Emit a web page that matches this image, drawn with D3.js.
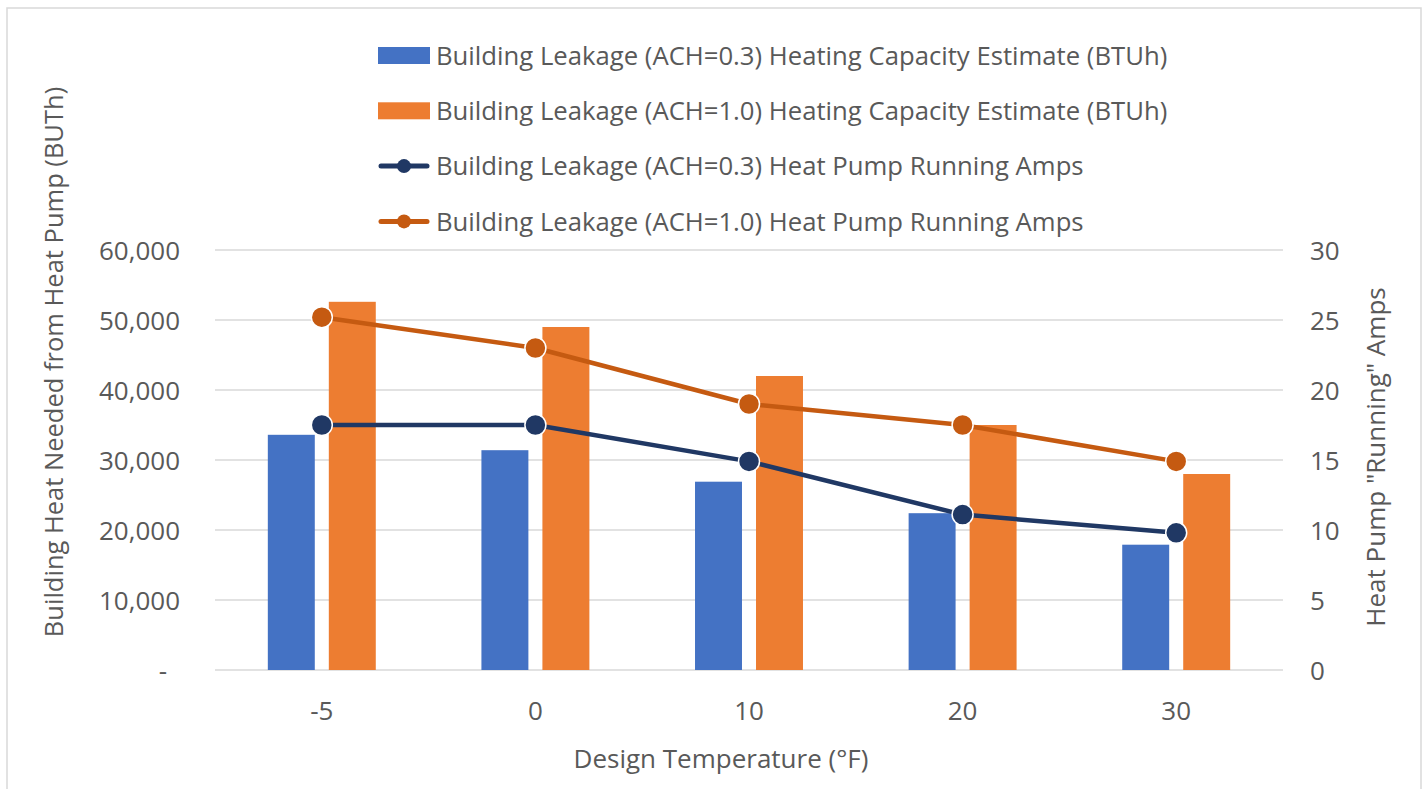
<!DOCTYPE html>
<meta charset="utf-8">
<head>
	<script src="https://d3js.org/d3.v7.min.js"></script>
</head>
<style>
	body {
		margin: 0;
		background: #fff;
	}
	text {
		font-family: "Open Sans", sans-serif;
		fill: #595959;
	}
	.grid line {
		stroke: #D9D9D9;
		stroke-width: 1.5px;
	}
	.line {
		fill: none;
		stroke-width: 4.5px;
		stroke-linejoin: round;
	}
</style>
<body>
<svg id="chart" width="1426" height="789"></svg>
<script>
	// data
	var temps = ["-5", "0", "10", "20", "30"];
	var capacityLow = [33600, 31400, 26900, 22400, 17900];
	var capacityHigh = [52600, 49000, 42000, 35000, 28000];
	var ampsLow = [17.5, 17.5, 14.9, 11.1, 9.8];
	var ampsHigh = [25.2, 23.0, 19.0, 17.5, 14.9];
	var leftTicks = [0, 10000, 20000, 30000, 40000, 50000, 60000];
	var rightTicks = [0, 5, 10, 15, 20, 25, 30];

	var barSeries = [
		{name: "Building Leakage (ACH=0.3) Heating Capacity Estimate (BTUh)", values: capacityLow, color: "#4472C4"},
		{name: "Building Leakage (ACH=1.0) Heating Capacity Estimate (BTUh)", values: capacityHigh, color: "#ED7D31"}
	];
	var lineSeries = [
		{name: "Building Leakage (ACH=0.3) Heat Pump Running Amps", values: ampsLow, color: "#203864"},
		{name: "Building Leakage (ACH=1.0) Heat Pump Running Amps", values: ampsHigh, color: "#C55A11"}
	];

	var svg = d3.select("#chart");

	var plot = {left: 215, right: 1283, top: 250, bottom: 670};

	// outer chart border
	svg.append("rect")
		.attr("x", 7)
		.attr("y", 8)
		.attr("width", 1414)
		.attr("height", 800)
		.attr("fill", "none")
		.attr("stroke", "#D9D9D9")
		.attr("stroke-width", 1.5);

	var x0 = d3.scaleBand()
		.domain(temps)
		.range([plot.left, plot.right]);

	var x1 = d3.scaleBand()
		.domain([0, 1])
		.range([0, x0.bandwidth()])
		.paddingInner(0.23)
		.paddingOuter(0.866);

	var yLeft = d3.scaleLinear()
		.domain([0, 60000])
		.range([plot.bottom, plot.top]);

	var yRight = d3.scaleLinear()
		.domain([0, 30])
		.range([plot.bottom, plot.top]);

	// gridlines
	svg.append("g")
		.attr("class", "grid")
		.selectAll("line")
		.data(leftTicks)
		.join("line")
		.attr("x1", plot.left)
		.attr("x2", plot.right)
		.attr("y1", d => yLeft(d))
		.attr("y2", d => yLeft(d));

	// left axis
	var leftAxis = svg.append("g")
		.attr("transform", "translate(" + plot.left + ",0)")
		.call(d3.axisLeft(yLeft)
			.tickValues(leftTicks)
			.tickSize(0)
			.tickPadding(35)
			.tickFormat(d => d === 0 ? "-" : d3.format(",")(d)));
	leftAxis.select(".domain").remove();
	leftAxis.selectAll("text")
		.attr("font-size", 26)
		.attr("dy", "0.36em")
		.filter(d => d === 0)
		.attr("dx", -13);

	// right axis
	var rightAxis = svg.append("g")
		.attr("transform", "translate(" + plot.right + ",0)")
		.call(d3.axisRight(yRight)
			.tickValues(rightTicks)
			.tickSize(0)
			.tickPadding(27));
	rightAxis.select(".domain").remove();
	rightAxis.selectAll("text")
		.attr("font-size", 26)
		.attr("dy", "0.36em");

	// bottom axis
	var bottomAxis = svg.append("g")
		.attr("transform", "translate(0," + plot.bottom + ")")
		.call(d3.axisBottom(x0).tickSize(0));
	bottomAxis.select(".domain").remove();
	bottomAxis.selectAll("text")
		.attr("font-size", 26)
		.attr("dy", null)
		.attr("y", 50);

	svg.selectAll(".tick text").attr("fill", "#595959");
	svg.selectAll("g[font-family]").attr("font-family", null).attr("font-size", null);

	// bars
	barSeries.forEach(function(s, i) {
		svg.append("g")
			.selectAll("rect")
			.data(s.values)
			.join("rect")
			.attr("x", (d, j) => x0(temps[j]) + x1(i))
			.attr("width", x1.bandwidth())
			.attr("y", d => yLeft(d))
			.attr("height", d => yLeft(0) - yLeft(d))
			.attr("fill", s.color);
	});

	// lines with markers
	var line = d3.line()
		.x((d, j) => x0(temps[j]) + x0.bandwidth() / 2)
		.y(d => yRight(d));

	lineSeries.forEach(function(s) {
		svg.append("path")
			.attr("class", "line")
			.attr("d", line(s.values))
			.attr("stroke", s.color);
		svg.append("g")
			.selectAll("circle")
			.data(s.values)
			.join("circle")
			.attr("cx", (d, j) => x0(temps[j]) + x0.bandwidth() / 2)
			.attr("cy", d => yRight(d))
			.attr("r", 10.5)
			.attr("fill", s.color)
			.attr("stroke", "#fff")
			.attr("stroke-width", 1.5);
	});

	// axis titles
	svg.append("text")
		.attr("transform", "translate(63,362) rotate(-90)")
		.attr("text-anchor", "middle")
		.attr("font-size", 25.5)
		.text("Building Heat Needed from Heat Pump (BUTh)");

	svg.append("text")
		.attr("transform", "translate(1385,457) rotate(-90)")
		.attr("text-anchor", "middle")
		.attr("font-size", 26)
		.text("Heat Pump \"Running\" Amps");

	svg.append("text")
		.attr("x", 721)
		.attr("y", 768)
		.attr("text-anchor", "middle")
		.attr("font-size", 26)
		.text("Design Temperature (\u00B0F)");

	// legend
	var legendItems = barSeries.map(d => ({name: d.name, color: d.color, type: "bar"}))
		.concat(lineSeries.map(d => ({name: d.name, color: d.color, type: "line"})));

	var legend = svg.append("g")
		.attr("transform", "translate(378,0)");

	var rows = legend.selectAll("g")
		.data(legendItems)
		.join("g")
		.attr("transform", (d, i) => "translate(0," + (55.5 + i * 55.3) + ")");

	rows.filter(d => d.type === "bar")
		.append("rect")
		.attr("x", 0)
		.attr("y", -8.5)
		.attr("width", 52)
		.attr("height", 17)
		.attr("fill", d => d.color);

	var lineRows = rows.filter(d => d.type === "line");
	lineRows.append("line")
		.attr("x1", 3)
		.attr("x2", 49)
		.attr("stroke", d => d.color)
		.attr("stroke-width", 5)
		.attr("stroke-linecap", "round");
	lineRows.append("circle")
		.attr("cx", 26)
		.attr("r", 7)
		.attr("fill", d => d.color);

	rows.append("text")
		.attr("x", 58)
		.attr("dy", "0.36em")
		.attr("font-size", 25.7)
		.text(d => d.name);
</script>
</body>
